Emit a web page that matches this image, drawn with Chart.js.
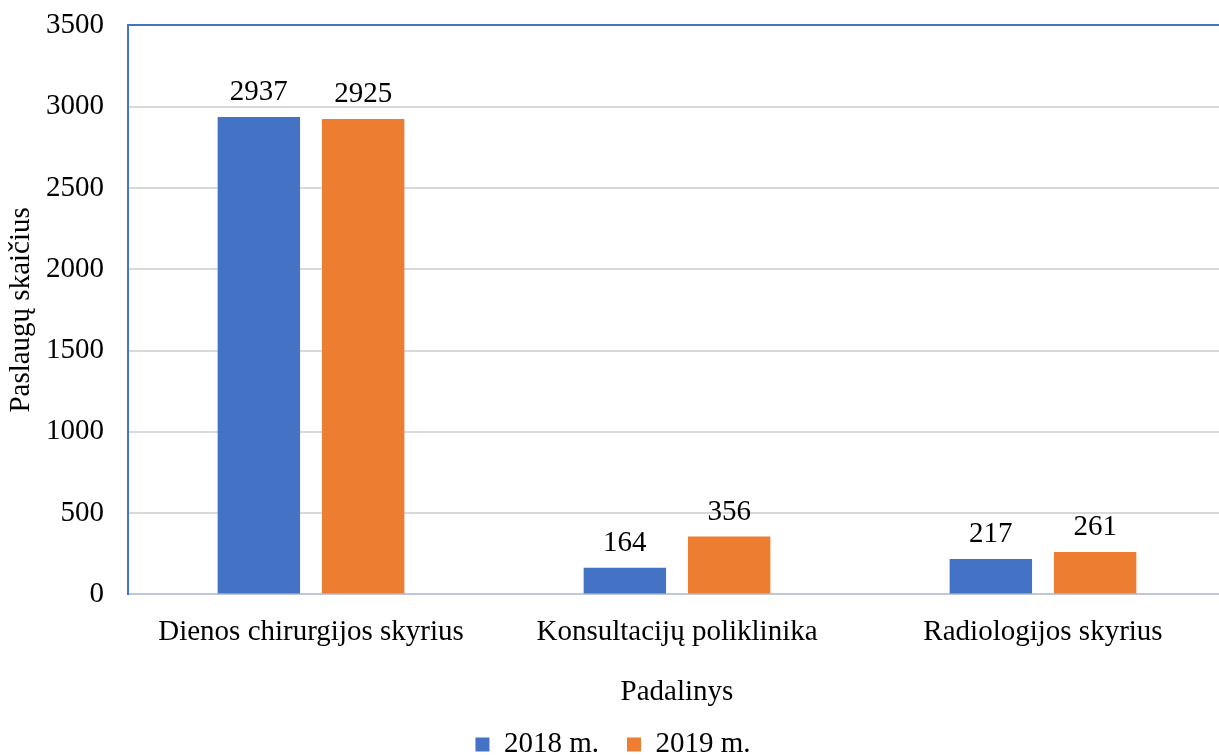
<!DOCTYPE html>
<html>
<head>
<meta charset="utf-8">
<script src="https://cdn.jsdelivr.net/npm/chart.js@4.4.1/dist/chart.umd.min.js"></script>
<style>
  html, body { margin: 0; padding: 0; background: #fff; overflow: hidden; }
  #wrap { width: 1226px; height: 785px; margin-top: -16px; }
</style>
</head>
<body>
<div id="wrap"><canvas id="chartPadaliniai"></canvas></div>
<script>
// duomenys
var padaliniai = ["Dienos chirurgijos skyrius", "Konsultacijų poliklinika", "Radiologijos skyrius"];
var metai2018 = [2937, 164, 217];
var metai2019 = [2925, 356, 261];
var serijos = ["2018 m.", "2019 m."];

var SERIF = "'Liberation Serif', 'Times New Roman', serif";
var FS = 29;

// reikšmės virš stulpelių
var reiksmes = {
    id: "reiksmes",
    afterDatasetsDraw: function (chart) {
        var ctx = chart.ctx;
        ctx.save();
        ctx.font = FS + "px " + SERIF;
        ctx.fillStyle = "#000";
        ctx.textAlign = "center";
        ctx.textBaseline = "alphabetic";
        chart.data.datasets.forEach(function (ds, i) {
            chart.getDatasetMeta(i).data.forEach(function (bar, j) {
                ctx.fillText(ds.data[j], bar.x, bar.y - 17);
            });
        });
        ctx.restore();
    }
};

new Chart(document.getElementById("chartPadaliniai"), {
    type: "bar",
    data: {
        labels: padaliniai,
        datasets: [
            { label: serijos[0], data: metai2018, backgroundColor: "#4472C4", categoryPercentage: 0.57, barPercentage: 0.79 },
            { label: serijos[1], data: metai2019, backgroundColor: "#ED7D31", categoryPercentage: 0.57, barPercentage: 0.79 }
        ]
    },
    options: {
        responsive: true,
        maintainAspectRatio: false,
        animation: false,
        layout: { padding: 0 },
        plugins: {
            tooltip: { enabled: false },
            legend: {
                position: "bottom",
                labels: {
                    boxWidth: 14,
                    boxHeight: 14,
                    padding: 28,
                    color: "#000",
                    font: { family: SERIF, size: FS }
                }
            }
        },
        scales: {
            x: {
                grid: { display: false },
                border: { color: "#BFC8DA", width: 2 },
                ticks: { color: "#000", padding: 13, font: { family: SERIF, size: FS } },
                title: {
                    display: true,
                    text: "Padalinys",
                    color: "#000",
                    padding: { top: 12, bottom: -8 },
                    font: { family: SERIF, size: FS }
                }
            },
            y: {
                min: 0,
                max: 3500,
                afterFit: function (s) { s.width = 128; },
                ticks: {
                    stepSize: 500, color: "#000", padding: 24,
                    font: { family: SERIF, size: FS },
                    callback: function (v) { return String(v); }
                },
                grid: {
                    drawTicks: false,
                    lineWidth: 2,
                    color: function (c) { return c.tick && c.tick.value === 3500 ? "#4472C4" : "#D9D9D9"; }
                },
                border: { color: "#4472C4", width: 2 },
                title: {
                    display: true,
                    text: "Paslaugų skaičius",
                    color: "#000",
                    padding: { top: 4, bottom: 0 },
                    font: { family: SERIF, size: FS }
                }
            }
        }
    },
    plugins: [reiksmes]
});
</script>
</body>
</html>
